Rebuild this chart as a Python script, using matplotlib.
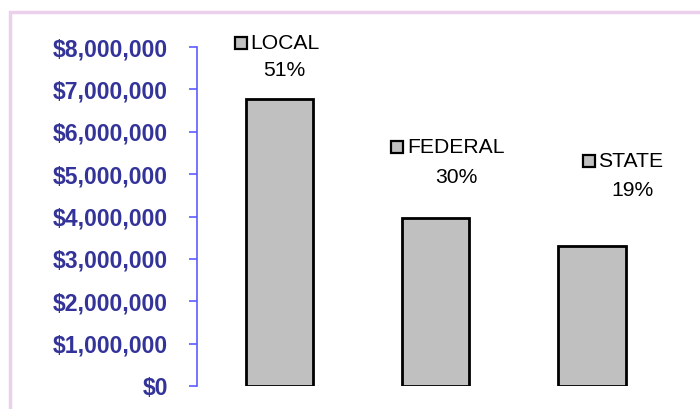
import matplotlib
matplotlib.use("Agg")
import matplotlib.pyplot as plt
from matplotlib.patches import Rectangle
from matplotlib.ticker import FuncFormatter, MultipleLocator
import matplotlib.transforms as mtransforms

categories = ["LOCAL", "FEDERAL", "STATE"]
values = [6780000, 3970000, 3310000]
percent_labels = ["51%", "30%", "19%"]

plt.rcParams['font.family'] = ['Liberation Sans', 'DejaVu Sans']

fig = plt.figure(figsize=(7.0, 4.09), dpi=100)
# light purple frame
fig.patches.append(Rectangle((10/700, -0.1), 1.2, 1 - 12/409 + 0.1, transform=fig.transFigure,
                             fill=False, edgecolor='#ebd0eb', linewidth=2.5))

ax = fig.add_axes([197/700, 1 - 386/409, 473/700, (386 - 47)/409])
x = list(range(len(categories)))
ax.bar(x, values, width=0.43, color='#c0c0c0', edgecolor='black', linewidth=2.0, zorder=2)

ax.set_xlim(-0.53, 2.5)
ax.set_ylim(0, 8000000)
ax.yaxis.set_major_locator(MultipleLocator(1000000))
ax.yaxis.set_major_formatter(FuncFormatter(lambda v, p: f"${v:,.0f}"))
for s in ['top', 'right', 'bottom']:
    ax.spines[s].set_visible(False)
ax.spines['left'].set_color('#5c5cff')
ax.spines['left'].set_linewidth(1.2)
ax.tick_params(axis='y', direction='out', length=5.5, width=1.2, color='#5c5cff',
               pad=15.5, labelsize=16.6, labelcolor='#333399')
for t in ax.get_yticklabels():
    t.set_fontweight('bold')
ax.set_xticks([])

# label positions (relative offsets from bar centre / top, in data units)
name_dx = [-0.19, -0.185, 0.039]
name_dy = [1310000, 1660000, 1990000]
pct_dx = [0.027, 0.129, 0.257]
pct_dy = [670000, 950000, 1300000]

for i, (c, v, pl) in enumerate(zip(categories, values, percent_labels)):
    ax.text(i + name_dx[i], v + name_dy[i], c, ha='left', va='center', fontsize=15.2,
            color='black', clip_on=False)
    mt = ax.transData + mtransforms.ScaledTranslation(-9.5/100, 0, fig.dpi_scale_trans)
    ax.plot([i + name_dx[i]], [v + name_dy[i]], marker='s', markersize=9.2,
            markerfacecolor='#c0c0c0', markeredgecolor='black', markeredgewidth=1.6,
            transform=mt, clip_on=False, linestyle='none')
    ax.text(i + pct_dx[i], v + pct_dy[i], pl, ha='center', va='center', fontsize=15.2,
            color='black', clip_on=False)

fig.savefig("out.png", dpi=100)
